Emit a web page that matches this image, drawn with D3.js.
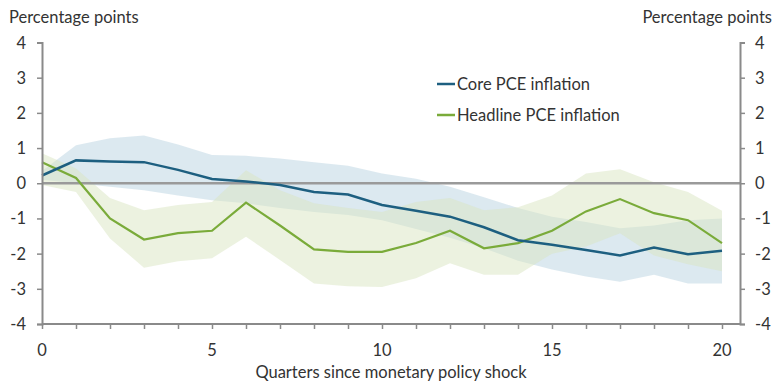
<!DOCTYPE html>
<html lang="en">
<head>
<meta charset="UTF-8">
<title>Inflation response to monetary policy shock</title>
<script src="https://cdn.jsdelivr.net/npm/d3@7"></script>
<style>
  body { margin: 0; background: #fff; }
  text { font-family: Lato, "Open Sans", sans-serif; fill: #333; }
</style>
</head>
<body>
<script>
var quarters = d3.range(0, 21);
var coreValues    = [0.22, 0.65, 0.62, 0.6, 0.38, 0.12, 0.05, -0.05, -0.25, -0.32, -0.62, -0.78, -0.95, -1.25, -1.62, -1.75, -1.9, -2.05, -1.83, -2.02, -1.92];
var coreUpper     = [0.35, 1.08, 1.28, 1.36, 1.1, 0.8, 0.78, 0.7, 0.6, 0.5, 0.28, 0.13, -0.1, -0.4, -0.7, -0.95, -1.1, -1.28, -1.2, -1.05, -1.0];
var coreLower     = [0.1, 0.0, -0.1, -0.2, -0.35, -0.48, -0.57, -0.7, -0.82, -0.9, -1.05, -1.3, -1.55, -1.85, -2.2, -2.45, -2.65, -2.8, -2.6, -2.85, -2.85];
var headlineValues = [0.6, 0.15, -1.0, -1.6, -1.42, -1.35, -0.55, -1.2, -1.88, -1.95, -1.95, -1.7, -1.35, -1.85, -1.7, -1.35, -0.8, -0.45, -0.85, -1.05, -1.7];
var headlineUpper  = [0.85, 0.42, -0.42, -0.77, -0.62, -0.53, 0.37, -0.2, -0.57, -0.7, -0.82, -0.53, -0.42, -0.77, -0.68, -0.35, 0.28, 0.4, 0.03, -0.25, -0.78];
var headlineLower  = [-0.05, -0.25, -1.57, -2.4, -2.22, -2.13, -1.52, -2.18, -2.85, -2.93, -2.95, -2.7, -2.27, -2.6, -2.6, -2.0, -1.8, -1.42, -2.05, -2.3, -2.5];
var yTicks = [4, 3, 2, 1, 0, -1, -2, -3, -4];
var xTickLabels = [0, 5, 10, 15, 20];
var seriesNames = ['Core PCE inflation', 'Headline PCE inflation'];

var W = 773, H = 383;
var svg = d3.select('body').append('svg').attr('width', W).attr('height', H);

var x = d3.scaleLinear().domain([0, 20]).range([42, 722]);
var y = d3.scaleLinear().domain([-4, 4]).range([324, 42.5]);
var xEnd = 740;

var area = function(lo, hi) {
  return d3.area()
    .x(function(d) { return x(d); })
    .y0(function(d, i) { return y(lo[i]); })
    .y1(function(d, i) { return y(hi[i]); });
};
var line = function(vals) {
  return d3.line()
    .x(function(d) { return x(d); })
    .y(function(d, i) { return y(vals[i]); });
};

// bands
svg.append('path').datum(quarters)
  .attr('d', area(coreLower, coreUpper))
  .attr('fill', '#b9d3e1').attr('opacity', 0.5);
svg.append('path').datum(quarters)
  .attr('d', area(headlineLower, headlineUpper))
  .attr('fill', '#d9e5c1').attr('opacity', 0.5);

// zero line
svg.append('line')
  .attr('x1', x(0)).attr('x2', xEnd)
  .attr('y1', y(0)).attr('y2', y(0))
  .attr('stroke', '#9a9a9a').attr('stroke-width', 2.5);

// lines
svg.append('path').datum(quarters)
  .attr('d', line(headlineValues))
  .attr('fill', 'none').attr('stroke', '#7aab3a').attr('stroke-width', 2.2);
svg.append('path').datum(quarters)
  .attr('d', line(coreValues))
  .attr('fill', 'none').attr('stroke', '#1d5f80').attr('stroke-width', 2.5);

// axes
var axisColor = '#8a8a8a';
var leftAxis = svg.append('g').attr('transform', 'translate(' + x(0) + ',0)')
  .call(d3.axisLeft(y).tickValues(yTicks).tickSize(5).tickFormat(''));
var rightAxis = svg.append('g').attr('transform', 'translate(' + xEnd + ',0)')
  .call(d3.axisRight(y).tickValues(yTicks).tickSize(5).tickFormat(''));
var bottomAxis = svg.append('g').attr('transform', 'translate(0,' + y(-4) + ')')
  .call(d3.axisBottom(x).tickValues(quarters).tickSize(5).tickFormat(''));
[leftAxis, rightAxis, bottomAxis].forEach(function(g) {
  g.selectAll('path').attr('stroke', axisColor).attr('stroke-width', 2);
  g.selectAll('line').attr('stroke', axisColor).attr('stroke-width', 1.5);
});
bottomAxis.select('path').attr('d', 'M' + x(0) + ',0H' + xEnd);

// tick labels
svg.selectAll('.yl').data(yTicks).enter().append('text')
  .attr('x', 26).attr('y', function(d) { return y(d) + 6; })
  .attr('text-anchor', 'end').attr('font-size', 16.5)
  .text(function(d) { return d; });
svg.selectAll('.yr').data(yTicks).enter().append('text')
  .attr('x', 755).attr('y', function(d) { return y(d) + 6; })
  .attr('text-anchor', 'start').attr('font-size', 16.5)
  .text(function(d) { return d; });
svg.selectAll('.xl').data(xTickLabels).enter().append('text')
  .attr('x', function(d) { return x(d); }).attr('y', 356)
  .attr('text-anchor', 'middle').attr('font-size', 16.5)
  .text(function(d) { return d; });

// titles
svg.append('text').attr('x', 9).attr('y', 23).attr('font-size', 16.5)
  .text('Percentage points');
svg.append('text').attr('x', 772).attr('y', 23).attr('font-size', 16.5)
  .attr('text-anchor', 'end').text('Percentage points');
svg.append('text').attr('x', 391).attr('y', 378).attr('font-size', 16.5)
  .attr('text-anchor', 'middle').text('Quarters since monetary policy shock');

// legend
var legendColors = ['#1d5f80', '#7aab3a'];
var lg = svg.selectAll('.lg').data(seriesNames).enter().append('g')
  .attr('transform', function(d, i) { return 'translate(437,' + (84 + i * 31) + ')'; });
lg.append('line').attr('x1', 0).attr('x2', 18)
  .attr('stroke', function(d, i) { return legendColors[i]; }).attr('stroke-width', 2.5);
lg.append('text').attr('x', 20).attr('y', 6).attr('font-size', 16.5)
  .text(function(d) { return d; });
</script>
</body>
</html>
